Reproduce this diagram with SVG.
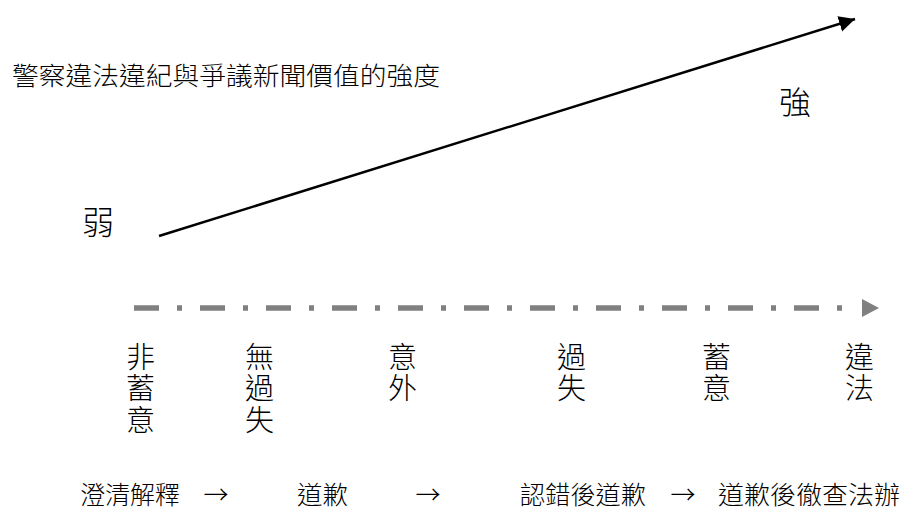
<svg xmlns="http://www.w3.org/2000/svg" width="912" height="522" viewBox="0 0 912 522">
  <style>
    text { font-family: "Noto Sans CJK TC", "Noto Sans CJK SC", sans-serif; font-weight: 300; fill: #000; }
    .title { font-size: 25px; }
    .big { font-size: 32px; }
    .col { font-size: 29px; writing-mode: vertical-rl; letter-spacing: 2.5px; }
    .bottom { font-size: 25px; }
  </style>
  <defs>
    <marker id="blackHead" markerUnits="userSpaceOnUse" markerWidth="18" markerHeight="18" refX="16" refY="8" orient="auto">
      <polygon points="0,0 16,8 0,16" fill="#000"/>
    </marker>
  </defs>
  <rect width="912" height="522" fill="#fff"/>

  <g id="title">
    <text class="title" x="12" y="85" textLength="428" lengthAdjust="spacingAndGlyphs">警察違法違紀與爭議新聞價值的強度</text>
  </g>
  <g id="weak">
    <text class="big" x="82" y="234">弱</text>
  </g>
  <g id="strong">
    <text class="big" x="779" y="114">強</text>
  </g>

  <g id="connectors">
    <line x1="159" y1="236" x2="855" y2="19" stroke="#000" stroke-width="2.5" marker-end="url(#blackHead)"/>
    <line x1="134" y1="308" x2="860" y2="308" stroke="#808080" stroke-width="5.5" stroke-dasharray="25 18 5 18"/>
    <polygon points="862,299 879,308 862,317" fill="#808080"/>
  </g>

  <g id="label-non-intent">
    <text class="col" x="140.5" y="342">非蓄意</text>
  </g>
  <g id="label-no-fault">
    <text class="col" x="259.5" y="342">無過失</text>
  </g>
  <g id="label-accident">
    <text class="col" x="402.5" y="342">意外</text>
  </g>
  <g id="label-fault">
    <text class="col" x="571.5" y="342">過失</text>
  </g>
  <g id="label-intent">
    <text class="col" x="716.5" y="342">蓄意</text>
  </g>
  <g id="label-illegal">
    <text class="col" x="859.5" y="342">違法</text>
  </g>

  <g id="bottom-sequence">
    <text class="bottom" x="80" y="504" textLength="100" lengthAdjust="spacingAndGlyphs">澄清解釋</text>
    <text class="bottom" x="216" y="504" text-anchor="middle">→</text>
    <text class="bottom" x="297" y="504" textLength="51" lengthAdjust="spacingAndGlyphs">道歉</text>
    <text class="bottom" x="428" y="504" text-anchor="middle">→</text>
    <text class="bottom" x="520" y="504" textLength="126" lengthAdjust="spacingAndGlyphs">認錯後道歉</text>
    <text class="bottom" x="683" y="504" text-anchor="middle">→</text>
    <text class="bottom" x="718" y="504" textLength="182" lengthAdjust="spacingAndGlyphs">道歉後徹查法辦</text>
  </g>
</svg>
